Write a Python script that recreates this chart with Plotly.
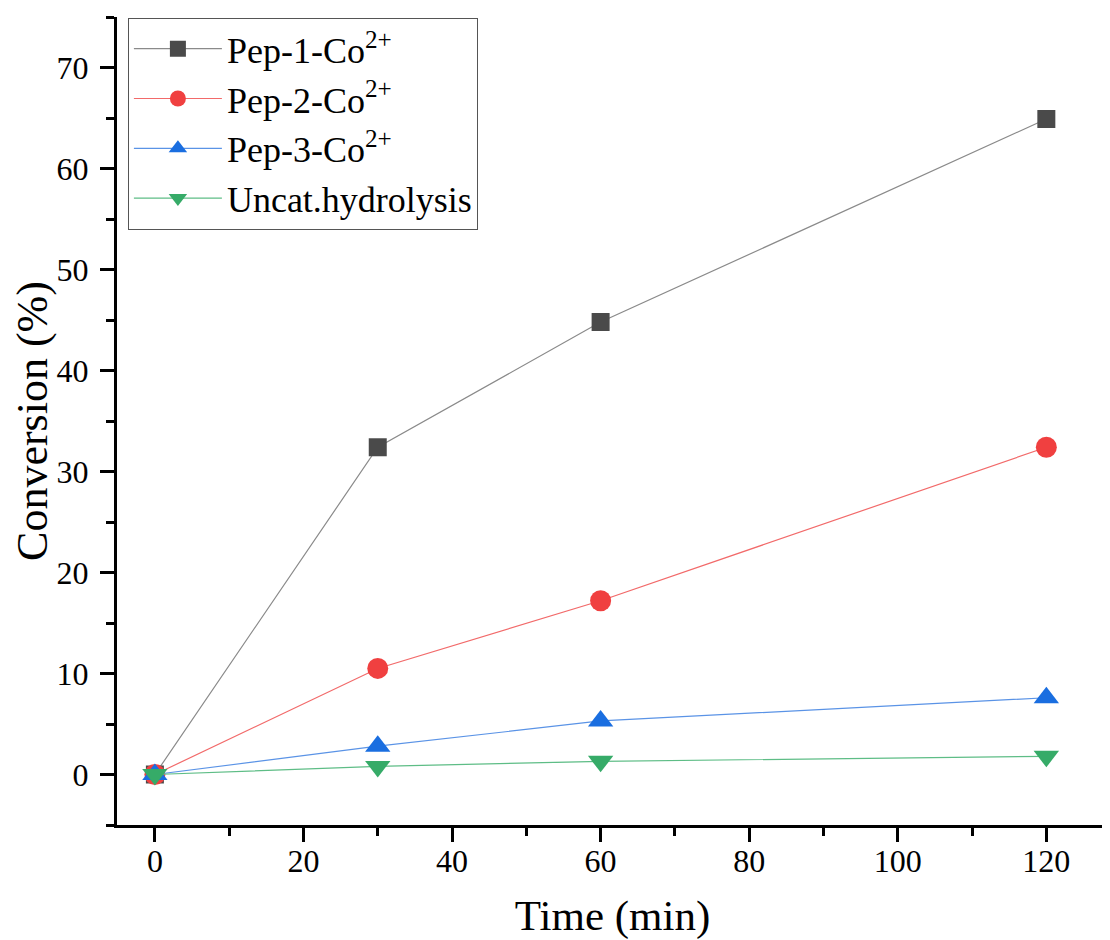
import plotly.graph_objects as go

time_min = [0, 30, 60, 120]
pep1 = [0, 32.4, 44.8, 64.9]
pep2 = [0, 10.5, 17.2, 32.4]
pep3 = [0, 2.8, 5.3, 7.6]
uncat = [0, 0.8, 1.3, 1.8]

series = [
    ("Pep-1-Co<sup>2+</sup>", pep1, "square", "#4a4a4a", "#8a8a8a", 18),
    ("Pep-2-Co<sup>2+</sup>", pep2, "circle", "#f04040", "#f26a6a", 21),
    ("Pep-3-Co<sup>2+</sup>", pep3, "triangle-up", "#1a6ee0", "#5a93e6", 22),
    ("Uncat.hydrolysis", uncat, "triangle-down", "#36ab68", "#5ebd86", 22),
]

FONT = "Liberation Serif"
fig = go.Figure()
for name, vals, sym, mc, lc, ms in series:
    fig.add_trace(go.Scatter(
        x=time_min, y=vals, name=name, mode="lines+markers",
        line=dict(color=lc, width=1.2),
        marker=dict(symbol=sym, color=mc, size=ms, line=dict(width=0)),
    ))

axis_common = dict(
    showline=True, linecolor="black", linewidth=3, mirror=False,
    ticks="outside", ticklen=14, tickwidth=3, tickcolor="black",
    showgrid=False, zeroline=False, automargin=False,
    tickfont=dict(family=FONT, size=32, color="black"),
)

fig.update_layout(
    width=1110, height=940,
    margin=dict(l=109, r=10, t=9, b=123),
    paper_bgcolor="white", plot_bgcolor="white",
    font=dict(family=FONT, color="black"),
    xaxis=dict(
        range=[-5.1, 128.3], tickvals=[0, 20, 40, 60, 80, 100, 120],
        minor=dict(tickvals=[10, 30, 50, 70, 90, 110], ticklen=8, tickwidth=3, tickcolor="black", ticks="outside"),
        title=dict(text="Time (min)", font=dict(family=FONT, size=43), standoff=22),
        ticklabelstandoff=-8,
        **axis_common,
    ),
    yaxis=dict(
        range=[-5, 75], tickvals=[0, 10, 20, 30, 40, 50, 60, 70],
        minor=dict(tickvals=[-5, 5, 15, 25, 35, 45, 55, 65, 75], ticklen=8, tickwidth=3, tickcolor="black", ticks="outside"),
        title=dict(text="Conversion (%)", font=dict(family=FONT, size=44), standoff=14),
        ticklabelstandoff=5,
        **axis_common,
    ),
    legend=dict(
        x=0.011, y=0.999, xanchor="left", yanchor="top",
        bordercolor="#555555", borderwidth=1, bgcolor="white",
        font=dict(family=FONT, size=36, color="black"),
        itemwidth=88,
    ),
    showlegend=True,
)

fig.write_html("out.html")
